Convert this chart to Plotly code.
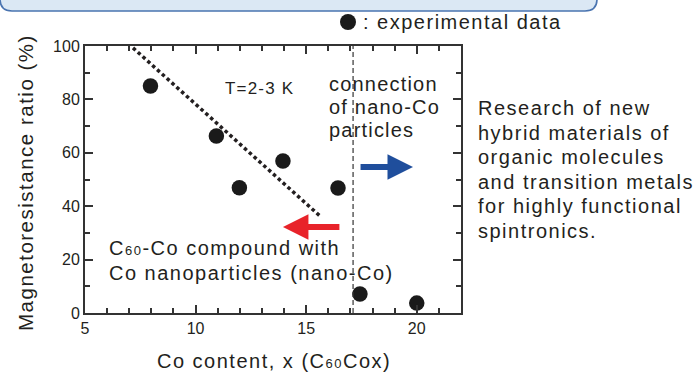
import plotly.graph_objects as go

# ---- data ----
co_content = [7.96, 10.94, 11.98, 13.95, 16.44, 17.43, 20.0]
mr_ratio = [85, 66.3, 46.9, 56.9, 46.8, 7.1, 3.7]
trend_x = [7.17, 15.6]
trend_y = [99.3, 36.5]
boundary_x = 17.12
x_ticks = [5, 10, 15, 20]
y_ticks = [0, 20, 40, 60, 80, 100]
blue_arrow_x = [17.39, 19.83]
blue_arrow_y = 54.7
red_arrow_x = [16.57, 13.95]
red_arrow_y = 32.2

W, H = 697, 373
L, R, T, B = 85, 461, 46, 313  # plot area in pixels

def px(xp):
    return (xp - L) / (R - L)

def py(yp):
    return (B - yp) / (B - T)

FONT = "Liberation Sans, Arial, Helvetica, sans-serif"
TXT = "#231f20"
SUB60 = '<span style="font-size:13px">60</span>'

def wide(s, sp=1.5):
    return f'<span style="letter-spacing:{sp}px">{s}</span>'

fig = go.Figure()
fig.add_trace(go.Scatter(
    x=trend_x, y=trend_y, mode="lines",
    line=dict(color="#231f20", width=3.5, dash="3.5px,3px"),
    hoverinfo="skip", showlegend=False))
fig.add_trace(go.Scatter(
    x=co_content, y=mr_ratio, mode="markers",
    marker=dict(size=15.5, color="#1a1a1a"), showlegend=False))

shapes = []
shapes.append(dict(type="line", xref="x", yref="paper", x0=boundary_x, x1=boundary_x,
                   y0=0, y1=1, line=dict(color="#333333", width=1.2, dash="5px,3px")))
# top rounded banner
x0, x1 = px(-10), px(597)
yb, yt = py(11), py(-10)
rx = 12 / (R - L)
ry = 12 / (B - T)
path = (f"M {x0},{yt} L {x1},{yt} L {x1},{yb+ry} "
        f"Q {x1},{yb} {x1-rx},{yb} L {px(12)},{yb} Q {px(0)},{yb} {px(0)},{yb+ry} L {px(0)},{yt} Z")
shapes.append(dict(type="path", xref="paper", yref="paper", path=path,
                   fillcolor="#dbe8f4", line=dict(color="#4a74b0", width=1.6), layer="above"))
# legend dot
shapes.append(dict(type="circle", xref="paper", yref="paper",
                   x0=px(340), x1=px(356), y0=py(30), y1=py(14),
                   fillcolor="#1a1a1a", line=dict(width=0)))

ann = []
def text(xp, yp, s, size=20, sp=1.5, xanchor="left", textangle=0):
    ann.append(dict(xref="paper", yref="paper", x=px(xp), y=py(yp), text=wide(s, sp),
                    showarrow=False, xanchor=xanchor, yanchor="middle", align="left",
                    textangle=textangle,
                    font=dict(family=FONT, size=size, color=TXT)))

text(361, 22, ": experimental data")
text(259, 88, "T=2-3 K", size=17, sp=1.2, xanchor="center")
for yy, s in zip([84, 107, 130], ["connection", "of nano-Co", "particles"]):
    text(327, yy, s, sp=1.2)
for yy, s in zip([248, 272.5], [f"C{SUB60}-Co compound with", "Co nanoparticles (nano-Co)"]):
    text(107, yy, s)
right_lines = ["Research of new", "hybrid materials of", "organic molecules",
               "and transition metals", "for highly functional", "spintronics."]
for i, s in enumerate(right_lines):
    text(476, 108 + 24.5 * i, s)

# axis titles
text(274, 361, f"Co content, x (C{SUB60}Cox)", xanchor="center")
text(26, 183, "Magnetoresistance ratio (%)", size=20.5, sp=1.5, xanchor="center", textangle=-90)

# arrows
for xs, yy, col in [(blue_arrow_x, blue_arrow_y, "#1f4e9c"), (red_arrow_x, red_arrow_y, "#e8232a")]:
    ann.append(dict(xref="x", yref="y", axref="x", ayref="y", x=xs[1], y=yy, ax=xs[0], ay=yy,
                    text="", showarrow=True, arrowhead=2, arrowsize=0.85, arrowwidth=6,
                    arrowcolor=col, standoff=0))

axis_common = dict(showline=True, linecolor="#333333", linewidth=2, mirror="allticks",
                   ticks="inside", tickcolor="#333333", tickwidth=2, ticklen=8,
                   showgrid=False, zeroline=False, automargin=False,
                   tickfont=dict(family=FONT, size=16, color=TXT))

fig.update_xaxes(range=[5, 22], tickvals=x_ticks,
                 minor=dict(ticks="inside", dtick=1, ticklen=5, tickcolor="#333333", tickwidth=2),
                 **axis_common)
fig.update_yaxes(range=[0, 100], tickvals=y_ticks,
                 minor=dict(ticks="inside", dtick=10, ticklen=5, tickcolor="#333333", tickwidth=2),
                 **axis_common)

fig.update_layout(width=W, height=H, margin=dict(l=L, r=W - R, t=T, b=H - B),
                  paper_bgcolor="white", plot_bgcolor="white",
                  shapes=shapes, annotations=ann, showlegend=False)

fig.write_html("out.html", config={"displayModeBar": False},
               post_script="document.body.style.margin='0';document.body.style.overflow='hidden';")
